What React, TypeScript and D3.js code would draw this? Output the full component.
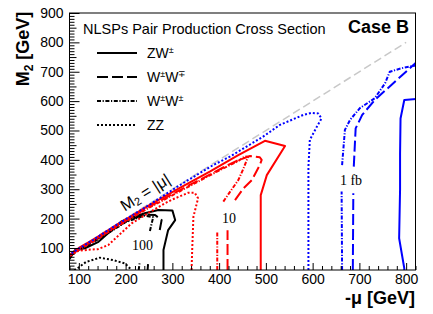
import React, { useEffect, useRef } from 'react';
import * as d3 from 'd3';

type Pt = [number, number] | null;

// axis ticks
const xTicks = [100, 200, 300, 400, 500, 600, 700, 800];
const yTicks = [100, 200, 300, 400, 500, 600, 700, 800, 900];
const diagMu = [80, 800];

// 1 fb contours (blue), [-mu, M2]
const zw1: Pt[] = [[796, 25], [796, 31], [785, 133], [787, 300], [787, 422], [788, 541], [796, 604], [822, 607]];
const wwOpp1: Pt[] = [[686, 25], [686, 31], [687, 286], null, [688, 377], [692, 507], [706, 553], [733, 604], [776, 666], [822, 732]];
const wwSame1: Pt[] = [[663, 25], [662, 292], null, [663, 382], [669, 502], [680, 536], [701, 576], [733, 610], [755, 661], [765, 700], [790, 712], [822, 722]];
const zz1: Pt[] = [[591, 25], [591, 377], [594, 468], [609, 513], [619, 541], [612, 558], [598, 560], [580, 553], [530, 519], [494, 479], [423, 411], [387, 382], [316, 314], [250, 246], [180, 178], [130, 127], [100, 98], [80, 77]];

// 10 fb contours (red)
const zw10: Pt[] = [[489, 25], [489, 280], [502, 348], [541, 447], [498, 465], [440, 415], [380, 360], [316, 305], [250, 245], [180, 178], [130, 128], [100, 100], [80, 76]];
const wwOpp10: Pt[] = [[418, 25], [418, 160], null, [434, 263], [452, 303], [470, 331], [487, 382], [491, 400], [487, 409], [473, 412], [466, 413], [440, 398], [416, 380], [380, 350], [316, 297], [250, 240], [180, 174], [130, 124], [100, 96], [80, 74]];
const wwSame10: Pt[] = [[396, 25], [396, 155], null, [409, 258], [425, 295], [441, 331], [452, 370], [459, 399], [462, 411], [455, 412], [440, 395], [410, 372], [380, 347], [316, 293], [250, 237], [180, 171], [130, 121], [100, 93], [80, 72]];
const zz10: Pt[] = [[341, 25], [343, 120], [345, 206], [355, 269], [348, 288], [334, 288], [300, 265], [284, 252], [250, 220], [213, 184], [163, 110], [141, 96], [120, 94], [99, 90], [80, 72]];

// 100 fb contours (black)
const zw100: Pt[] = [[281, 25], [281, 93], [291, 161], [306, 195], [300, 228], [270, 229], [241, 218], [191, 190], [142, 121], [113, 99], [92, 93], [80, 62]];
const wwOpp100: Pt[] = [[247, 25], [248, 45], null, [273, 161], [277, 195], [263, 212], [240, 214], [200, 190], [160, 150], [120, 112], [95, 92], [80, 74]];
const wwSame100: Pt[] = [[228, 25], [230, 50], null, [252, 158], [256, 185], [259, 205], [240, 210], [200, 188], [160, 148], [120, 110], [95, 90], [80, 72]];
const zz100: Pt[] = [[90, 25], [99, 33], [115, 52], [145, 67], [175, 58], [199, 47], [209, 31], [212, 25]];

const contourLabels = [
  { text: '100', mu: 236, m2: 107 },
  { text: '10', mu: 421, m2: 201 },
  { text: '1 fb', mu: 682, m2: 331 },
];

const legendItems = [
  { base: 'ZW', sup: ['±'], style: 'solid' },
  { base: 'W', sup: ['±', '∓'], style: 'dash' },
  { base: 'W', sup: ['±', '±'], style: 'dashdot' },
  { base: 'ZZ', sup: [], style: 'dot' },
];

const dashes: Record<string, string | null> = {
  solid: null,
  dash: '11,4',
  dashdot: '4,1.6,1.2,1.6',
  dot: '2,2',
};

const App: React.FC = () => {
  const svgRef = useRef<SVGSVGElement>(null);

  useEffect(() => {
    if (!svgRef.current) return;
    const svg = d3.select(svgRef.current);
    svg.selectAll('*').remove();

    const left = 69.5, right = 415.5, top = 13, bottom = 270;
    const sans = '"Liberation Sans", Arial, Helvetica, sans-serif';
    const serif = '"Liberation Serif", "Times New Roman", serif';

    const x = d3.scaleLinear().domain([80, 820]).range([left, right]);
    const y = d3.scaleLinear().domain([25, 900]).range([bottom, top]);

    svg.append('rect').attr('width', 433).attr('height', 314).attr('fill', 'white');

    const clip = svg.append('defs').append('clipPath').attr('id', 'plot-clip');
    clip.append('rect').attr('x', left).attr('y', top).attr('width', right - left).attr('height', bottom - top);

    const plot = svg.append('g').attr('clip-path', 'url(#plot-clip)');

    // M2 = |mu| reference line
    plot.append('line')
      .attr('x1', x(diagMu[0])).attr('y1', y(diagMu[0]))
      .attr('x2', x(diagMu[1])).attr('y2', y(diagMu[1]))
      .attr('stroke', '#c8c8c8').attr('stroke-width', 1.5)
      .attr('stroke-dasharray', '8,4');

    const line = d3.line<Pt>()
      .defined(d => d !== null)
      .x(d => x((d as [number, number])[0]))
      .y(d => y((d as [number, number])[1]));

    const contours: { data: Pt[]; color: string; style: string }[] = [
      { data: zz100, color: 'black', style: 'dot' },
      { data: wwSame100, color: 'black', style: 'dashdot' },
      { data: wwOpp100, color: 'black', style: 'dash' },
      { data: zw100, color: 'black', style: 'solid' },
      { data: zz10, color: '#ff0000', style: 'dot' },
      { data: wwSame10, color: '#ff0000', style: 'dashdot' },
      { data: wwOpp10, color: '#ff0000', style: 'dash' },
      { data: zw10, color: '#ff0000', style: 'solid' },
      { data: zw1, color: '#0000ff', style: 'solid' },
      { data: wwOpp1, color: '#0000ff', style: 'dash' },
      { data: wwSame1, color: '#0000ff', style: 'dashdot' },
      { data: zz1, color: '#0000ff', style: 'dot' },
    ];

    contours.forEach(c => {
      const p = plot.append('path')
        .attr('d', line(c.data))
        .attr('fill', 'none')
        .attr('stroke', c.color)
        .attr('stroke-width', 2)
        .attr('stroke-linejoin', 'round');
      if (dashes[c.style]) p.attr('stroke-dasharray', dashes[c.style] as string);
    });

    // contour labels
    contourLabels.forEach(l => {
      svg.append('text')
        .attr('x', x(l.mu)).attr('y', y(l.m2))
        .attr('text-anchor', 'middle')
        .attr('dominant-baseline', 'central')
        .style('font-family', serif)
        .style('font-size', '14px')
        .text(l.text);
    });

    // diagonal label
    const angle = -Math.atan((y(100) - y(200)) / (x(200) - x(100))) * 180 / Math.PI;
    const dl = svg.append('text')
      .attr('transform', `translate(145,192) rotate(${angle})`)
      .attr('text-anchor', 'middle')
      .attr('dominant-baseline', 'central')
      .style('font-family', sans)
      .style('font-size', '16px');
    dl.append('tspan').text('M');
    dl.append('tspan').attr('dy', 4).style('font-size', '11px').text('2');
    dl.append('tspan').attr('dy', -4).text(' = |μ|');

    // frame
    svg.append('rect')
      .attr('x', left).attr('y', top)
      .attr('width', right - left).attr('height', bottom - top)
      .attr('fill', 'none').attr('stroke', 'black').attr('stroke-width', 1);

    // x axis
    const xMinor = d3.range(80, 821, 20).filter(v => !xTicks.includes(v));
    svg.append('g')
      .attr('transform', `translate(0,${bottom})`)
      .call(d3.axisBottom(x).tickValues(xMinor).tickSizeInner(-4).tickSizeOuter(0).tickFormat(() => ''))
      .call(g => g.select('.domain').remove());
    svg.append('g')
      .attr('transform', `translate(0,${bottom})`)
      .call(d3.axisBottom(x).tickValues(xTicks).tickSizeInner(-7).tickSizeOuter(0).tickPadding(4))
      .call(g => g.select('.domain').remove())
      .call(g => g.selectAll('text').style('font-family', sans).style('font-size', '14px').attr('fill', 'black'));

    // y axis
    const yMinor = d3.range(30, 900, 10).filter(v => !yTicks.includes(v));
    svg.append('g')
      .attr('transform', `translate(${left},0)`)
      .call(d3.axisLeft(y).tickValues(yMinor).tickSizeInner(-5).tickSizeOuter(0).tickFormat(() => ''))
      .call(g => g.select('.domain').remove())
      .call(g => g.selectAll('.tick line').attr('x2', (d: any) => (d % 50 === 0 ? 7 : 5)));
    svg.append('g')
      .attr('transform', `translate(${left},0)`)
      .call(d3.axisLeft(y).tickValues(yTicks).tickSizeInner(-10).tickSizeOuter(0).tickPadding(6))
      .call(g => g.select('.domain').remove())
      .call(g => g.selectAll('text').style('font-family', sans).style('font-size', '14px').attr('fill', 'black'));

    // axis titles
    const yt = svg.append('text')
      .attr('transform', 'translate(29,49) rotate(-90)')
      .attr('text-anchor', 'middle')
      .style('font-family', sans).style('font-size', '18px').style('font-weight', 'bold');
    yt.append('tspan').text('M');
    yt.append('tspan').attr('dy', 4).style('font-size', '12px').text('2');
    yt.append('tspan').attr('dy', -4).text(' [GeV]');

    svg.append('text')
      .attr('x', 415).attr('y', 304)
      .attr('text-anchor', 'end')
      .style('font-family', sans).style('font-size', '18px').style('font-weight', 'bold')
      .text('-μ [GeV]');

    // headers
    svg.append('text')
      .attr('x', 83).attr('y', 34)
      .style('font-family', sans).style('font-size', '14.5px')
      .text('NLSPs Pair Production Cross Section');
    svg.append('text')
      .attr('x', 409).attr('y', 33)
      .attr('text-anchor', 'end')
      .style('font-family', sans).style('font-size', '18px').style('font-weight', 'bold')
      .text('Case B');

    // legend
    const rowY = d3.scalePoint<number>().domain(legendItems.map((_, i) => i)).range([53, 125]);
    legendItems.forEach((item, i) => {
      const yy = rowY(i) as number;
      const l = svg.append('line')
        .attr('x1', 97).attr('x2', 137).attr('y1', yy).attr('y2', yy)
        .attr('stroke', 'black').attr('stroke-width', 2);
      if (dashes[item.style]) l.attr('stroke-dasharray', dashes[item.style] as string);
      const t = svg.append('text')
        .attr('x', 147).attr('y', yy + 5)
        .style('font-family', sans).style('font-size', '14px');
      if (item.base === 'W') {
        t.append('tspan').text('W');
        t.append('tspan').attr('dy', -5).style('font-size', '9px').text(item.sup[0]);
        t.append('tspan').attr('dy', 5).text('W');
        t.append('tspan').attr('dy', -5).style('font-size', '9px').text(item.sup[1]);
      } else {
        t.append('tspan').text(item.base);
        if (item.sup.length) t.append('tspan').attr('dy', -5).style('font-size', '9px').text(item.sup[0]);
      }
    });
  }, []);

  return (
    <div style={{ position: 'absolute', left: 0, top: 0, background: 'white' }}>
      <svg ref={svgRef} width={433} height={314} viewBox="0 0 433 314" />
    </div>
  );
};

export default App;
